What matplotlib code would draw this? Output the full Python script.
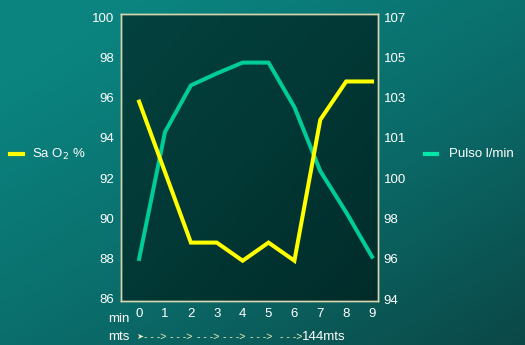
import matplotlib.pyplot as plt
import numpy as np
from matplotlib.colors import LinearSegmentedColormap

plt.rcParams["font.family"] = ["Liberation Sans", "DejaVu Sans"]

minutes = [0, 1, 2, 3, 4, 5, 6, 7, 8, 9]
sao2 = [95.8, 92.3, 88.8, 88.8, 87.9, 88.8, 87.9, 94.9, 96.8, 96.8]
pulso = [95.85, 101.7, 103.85, 104.4, 104.9, 104.9, 102.85, 99.9, 98.0, 95.95]

left_ticks = [86, 88, 90, 92, 94, 96, 98, 100]
right_ticks = np.linspace(94, 107, 8)

yellow = "#ffff00"
green = "#00cc99"
txt = "white"

fig = plt.figure(figsize=(5.25, 3.45), dpi=100)

# teal background, darker toward the bottom right
bg = fig.add_axes([0, 0, 1, 1], zorder=-10)
gx, gy = np.meshgrid(np.linspace(0, 1, 200), np.linspace(0, 1, 200))
g = np.clip(0.55 * gx + 0.6 * gy - 0.15, 0, 1)
cmap = LinearSegmentedColormap.from_list("bgc", ["#0b8480", "#0a6c6a", "#0a4847"])
bg.imshow(g, cmap=cmap, extent=[0, 1, 0, 1], aspect="auto", origin="upper")
bg.axis("off")

ax = fig.add_axes([121 / 525, 1 - 301 / 345, 257 / 525, 287 / 345])
pg = np.clip(0.5 * gx + 0.5 * gy, 0, 1)
pcmap = LinearSegmentedColormap.from_list("pc", ["#04423f", "#023835", "#012c2a"])

ax.plot(minutes, sao2, color=yellow, lw=2.9, zorder=3, solid_joinstyle="miter")
ax.set_xlim(-0.7, 9.23)
ax.set_ylim(85.9, 100.15)
ax.set_yticks(left_ticks)
ax.set_xticks(minutes)
ax.tick_params(colors=txt, labelsize=9.5, length=0, pad=5)
for s in ax.spines.values():
    s.set_color("#d8d6b0")
    s.set_linewidth(1)

ax2 = ax.twinx()
ax2.imshow(pg, cmap=pcmap, extent=[-0.7, 9.23, 93.91, 107.14], aspect="auto",
           origin="upper", zorder=0)
ax2.plot(minutes, pulso, color=green, lw=2.9, zorder=2)
ax2.set_xlim(-0.7, 9.23)
ax2.set_ylim(93.91, 107.14)
ax2.set_yticks(right_ticks)
ax2.set_yticklabels([f"{v:.0f}" for v in right_ticks])
ax2.tick_params(colors=txt, labelsize=9.5, length=0, pad=4)
for s in ax2.spines.values():
    s.set_color("#d8d6b0")
    s.set_linewidth(1)
ax.set_zorder(ax2.get_zorder() + 1)
ax.patch.set_visible(False)

# x-axis row labels
fig.text(108 / 525, 1 - 319 / 345, "min", color=txt, fontsize=9.5, va="center", ha="left")
fig.text(108 / 525, 1 - 337 / 345, "mts", color=txt, fontsize=9.5, va="center", ha="left")
fig.text(136 / 525, 1 - 337 / 345, "➤", color="#f0efb8", fontsize=6,
         va="center", ha="left")
for xa in [166, 192, 219, 245, 272, 302]:
    fig.text(xa / 525, 1 - 337 / 345, "- - ->", color="#f0efb8", fontsize=7.5,
             va="center", ha="right")
fig.text(302 / 525, 1 - 337 / 345, "144mts", color=txt, fontsize=9.5, va="center", ha="left")

# legends
fig.lines.append(plt.Line2D([10 / 525, 23 / 525], [1 - 154 / 345] * 2, color=yellow,
                            lw=3, transform=fig.transFigure))
fig.text(32 / 525, 1 - 154 / 345, "Sa O$_2$ %", color=txt, fontsize=9.5, va="center")
fig.lines.append(plt.Line2D([425 / 525, 437 / 525], [1 - 154 / 345] * 2, color="#00e8a8",
                            lw=3, transform=fig.transFigure))
fig.text(449 / 525, 1 - 154 / 345, "Pulso l/min", color=txt, fontsize=9.5, va="center")

fig.savefig("out.png", dpi=100)
